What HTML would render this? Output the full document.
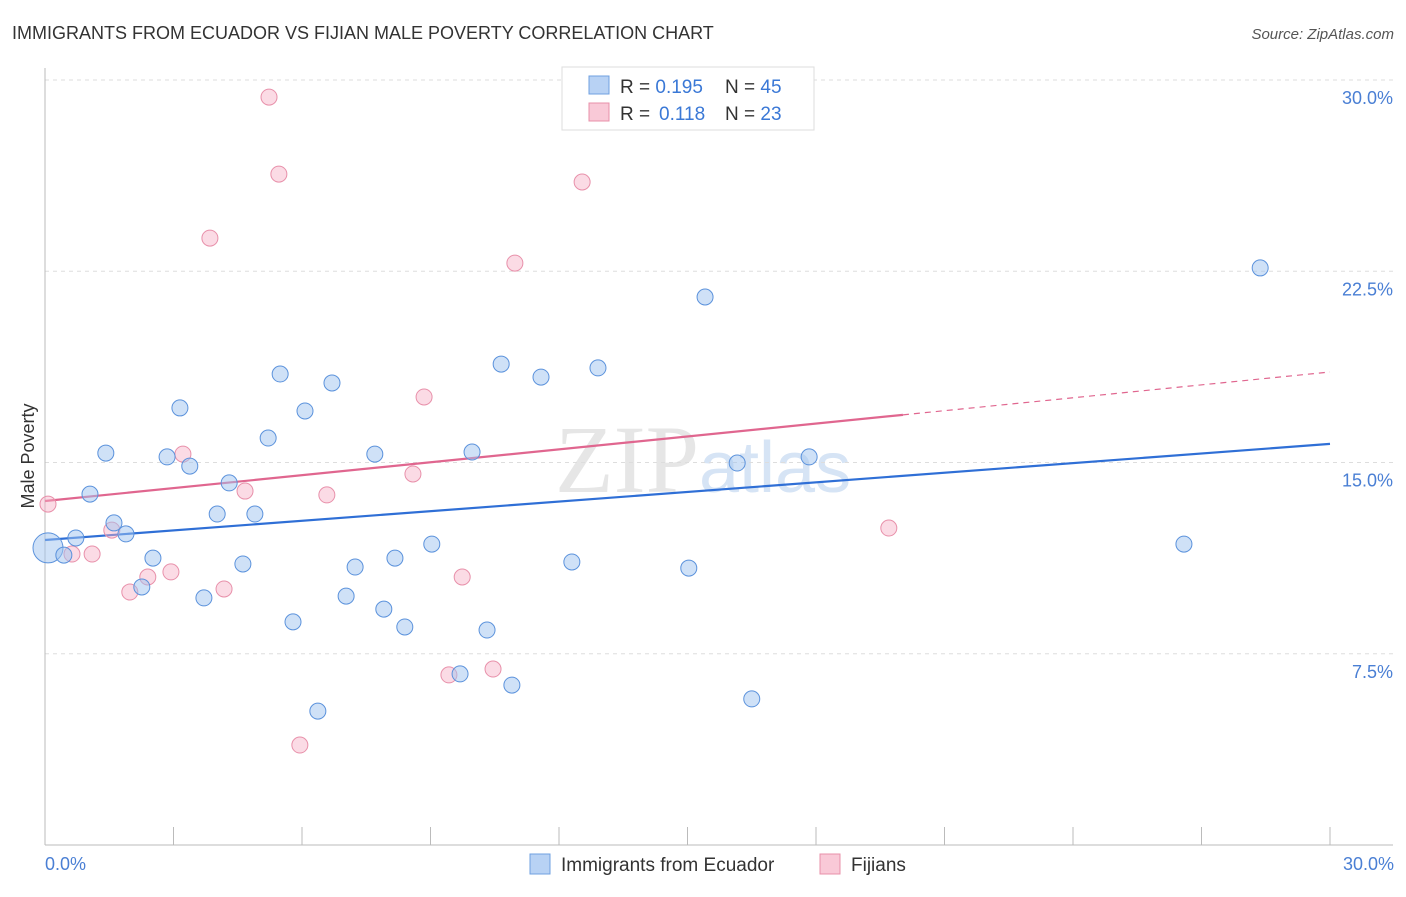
<!DOCTYPE html>
<html><head><meta charset="utf-8"><style>
body{margin:0;background:#fff;font-family:"Liberation Sans",sans-serif;}
</style></head><body>
<svg width="1406" height="892" xmlns="http://www.w3.org/2000/svg" font-family="Liberation Sans, sans-serif">
<text x="12" y="39" font-size="18" fill="#333">IMMIGRANTS FROM ECUADOR VS FIJIAN MALE POVERTY CORRELATION CHART</text>
<text x="1394" y="39" font-size="15" fill="#555" font-style="italic" text-anchor="end">Source: ZipAtlas.com</text>
<text x="555" y="492" font-size="96" fill="#e6e6e6" font-family="Liberation Serif, serif">ZIP<tspan fill="#d6e4f5" font-family="Liberation Sans, sans-serif" font-size="72">atlas</tspan></text>
<g id="grid"></g>
<g id="axes"></g>
<g id="trends"></g>
<g id="points"></g>
<text transform="translate(34,456) rotate(-90)" font-size="18" fill="#333" text-anchor="middle">Male Poverty</text>
<text x="45" y="870" font-size="18" fill="#4a7fd4">0.0%</text>
<text x="1394" y="870" font-size="18" fill="#4a7fd4" text-anchor="end">30.0%</text>
<g>
<rect x="562" y="67" width="252" height="63" fill="#fff" stroke="#ddd"/>
<rect x="589" y="76" width="20" height="18" fill="#b8d2f4" stroke="#6fa0e0"/>
<rect x="589" y="103" width="20" height="18" fill="#f9c9d7" stroke="#e890aa"/>
<text x="620" y="93" font-size="19" fill="#333">R = <tspan fill="#3a78d6">0.195</tspan><tspan x="725">N = </tspan><tspan fill="#3a78d6">45</tspan></text>
<text x="620" y="120" font-size="19" fill="#333">R = <tspan fill="#3a78d6" x="659">0.118</tspan><tspan x="725">N = </tspan><tspan fill="#3a78d6">23</tspan></text>
</g>
<g>
<rect x="530" y="854" width="20" height="20" fill="#b8d2f4" stroke="#6fa0e0"/>
<text x="561" y="871" font-size="19" fill="#333">Immigrants from Ecuador</text>
<rect x="820" y="854" width="20" height="20" fill="#f9c9d7" stroke="#e890aa"/>
<text x="851" y="871" font-size="19" fill="#333">Fijians</text>
</g>
</svg>
<script>
const yTicks=[7.5,15,22.5,30];
const yTickLabels=["7.5%","15.0%","22.5%","30.0%"];
const blueX=[0.07,0.44,0.72,1.05,1.42,1.61,1.89,2.26,2.52,2.85,3.15,3.38,3.71,4.02,4.30,4.62,4.90,5.21,5.49,5.79,6.07,6.37,6.70,7.03,7.24,7.70,7.91,8.17,8.40,9.03,9.69,9.97,10.32,10.65,10.90,11.58,12.30,12.91,15.03,15.41,16.16,16.50,17.84,26.59,28.37];
const blueY=[11.65,11.37,12.04,13.76,15.37,12.63,12.20,10.12,11.25,15.22,17.14,14.86,9.69,12.98,14.20,11.02,12.98,15.96,18.47,8.75,17.02,5.25,18.12,9.76,10.90,15.33,9.25,11.25,8.55,11.80,6.71,15.41,8.43,18.86,6.27,18.35,11.10,18.71,10.86,21.49,14.98,5.73,15.22,11.80,22.63];
const pinkX=[0.07,0.63,1.10,1.56,1.98,2.40,2.94,3.22,3.85,4.18,4.67,5.23,5.46,5.95,6.58,8.59,8.85,9.43,9.74,10.46,10.97,12.54,19.70];
const pinkY=[13.37,11.41,11.41,12.35,9.92,10.51,10.71,15.33,23.80,10.04,13.88,29.33,26.31,3.92,13.73,14.55,17.57,6.67,10.51,6.90,22.82,26.00,12.43];
const blueTrend=[11.96,15.73];
const pinkTrend=[13.49,18.55];
const pinkSolidEnd=20.03;
const NS="http://www.w3.org/2000/svg";
const sx=v=>45+v/30*1285, sy=v=>845-v/30*765;
function mk(t,a,p){const e=document.createElementNS(NS,t);for(const k in a)e.setAttribute(k,a[k]);p.appendChild(e);return e;}
const grid=document.getElementById('grid');
yTicks.forEach((t,i)=>{
 const l=mk('line',{x1:45,x2:1393,y1:sy(t),y2:sy(t),stroke:'#ddd','stroke-dasharray':'4,4'},grid);
 
 
 const tx=mk('text',{x:1393,y:sy(t)+24,'font-size':18,fill:'#4a7fd4','text-anchor':'end'},grid);
 tx.textContent=yTickLabels[i];
 
 
});
const axes=document.getElementById('axes');
mk('line',{x1:45,x2:45,y1:68,y2:845,stroke:'#bbb'},axes);
mk('line',{x1:45,x2:1393,y1:845,y2:845,stroke:'#bbb'},axes);
for(let i=0;i<=10;i++){const t=mk('line',{x1:sx(i*3),x2:sx(i*3),y1:827,y2:845,stroke:'#bbb'},axes);
 
 }
const tr=document.getElementById('trends');
const bl=mk('line',{x1:sx(0),y1:sy(blueTrend[0]),x2:sx(30),y2:sy(blueTrend[1]),stroke:'#2f6fd6','stroke-width':2.2},tr);


const pAt=x=>pinkTrend[0]+(pinkTrend[1]-pinkTrend[0])*x/30;
const pl=mk('line',{x1:sx(0),y1:sy(pAt(0)),x2:sx(pinkSolidEnd),y2:sy(pAt(pinkSolidEnd)),stroke:'#e0668f','stroke-width':2.2},tr);


const pd=mk('line',{x1:sx(pinkSolidEnd),y1:sy(pAt(pinkSolidEnd)),x2:sx(30),y2:sy(pAt(30)),stroke:'#e0668f','stroke-width':1.2,'stroke-dasharray':'6,5'},tr);


const pts=document.getElementById('points');
pinkX.forEach((x,i)=>{const c=mk('circle',{cx:sx(x),cy:sy(pinkY[i]),r:8,fill:'rgba(246,176,198,0.45)',stroke:'#e890aa','stroke-width':1},pts);
 
 });
blueX.forEach((x,i)=>{const c=mk('circle',{cx:sx(x),cy:sy(blueY[i]),r:i==0?15:8,fill:'rgba(160,196,240,0.5)',stroke:'#5b92dc','stroke-width':1},pts);
 
 });
</script>
</body></html>
